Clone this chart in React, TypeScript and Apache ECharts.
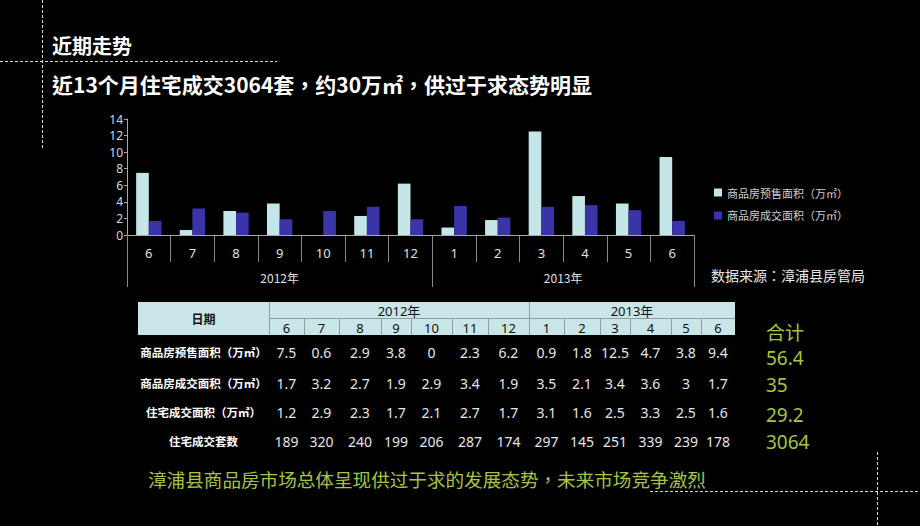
import React, { useEffect, useRef } from "react";
import * as echarts from "echarts";

// ---- data ----
const months = ["6", "7", "8", "9", "10", "11", "12", "1", "2", "3", "4", "5", "6"];
const years = ["2012年", "2013年"];
const yearSpans = [7, 6];
const seriesNames = ["商品房预售面积（万㎡）", "商品房成交面积（万㎡）"];
const presale = [7.5, 0.6, 2.9, 3.8, 0, 2.3, 6.2, 0.9, 1.8, 12.5, 4.7, 3.8, 9.4];
const deal = [1.7, 3.2, 2.7, 1.9, 2.9, 3.4, 1.9, 3.5, 2.1, 3.4, 3.6, 3, 1.7];
const resArea = [1.2, 2.9, 2.3, 1.7, 2.1, 2.7, 1.7, 3.1, 1.6, 2.5, 3.3, 2.5, 1.6];
const resUnits = [189, 320, 240, 199, 206, 287, 174, 297, 145, 251, 339, 239, 178];
const rowLabels = ["商品房预售面积（万㎡）", "商品房成交面积（万㎡）", "住宅成交面积（万㎡）", "住宅成交套数"];
const totalsLabel = "合计";
const totals = ["56.4", "35", "29.2", "3064"];
const yTicks = { min: 0, max: 14, interval: 2 };

const title = "近期走势";
const subtitle = "近13个月住宅成交3064套，约30万㎡，供过于求态势明显";
const sourceText = "数据来源：漳浦县房管局";
const conclusion = "漳浦县商品房市场总体呈现供过于求的发展态势，未来市场竞争激烈";

// ---- layout ----
const FONT = "'Noto Sans', 'Noto Sans CJK SC', sans-serif";
const CJK = "'Noto Sans CJK SC', 'Noto Sans', sans-serif";
const CJK_TC = "'Noto Sans CJK TC', 'Noto Sans', sans-serif";
const LIGHT = "#c5e6e9";
const DARK = "#3a34a8";
const GREEN = "#a6c441";
const colEdges = [269, 304, 339, 381, 411, 452, 488, 529, 564, 600, 630, 671, 701, 735];
const tableLeft = 138;
const headTop = 302;
const headMid = 318;
const headBottom = 335;
const rowYs = [352, 383, 412, 441];
const totalYs = [331, 358, 385, 415, 442];

function buildGraphic() {
  const g: any[] = [];
  const dash = { stroke: "#d8d8d8", lineWidth: 1, lineDash: [3, 2] };
  g.push({ type: "line", shape: { x1: 42.5, y1: 0, x2: 42.5, y2: 150 }, style: dash });
  g.push({ type: "line", shape: { x1: 0, y1: 61.5, x2: 277, y2: 61.5 }, style: dash });
  g.push({ type: "line", shape: { x1: 877.5, y1: 452, x2: 877.5, y2: 526 }, style: dash });
  g.push({ type: "line", shape: { x1: 650, y1: 491.5, x2: 920, y2: 491.5 }, style: dash });

  g.push({ type: "text", x: 52, y: 45, style: { text: title, fill: "#fff", fontSize: 20, fontWeight: "bold", fontFamily: CJK, align: "left", verticalAlign: "middle" } });
  g.push({ type: "text", x: 52, y: 84, style: { text: subtitle, fill: "#fff", fontSize: 21, fontWeight: "bold", fontFamily: CJK_TC, align: "left", verticalAlign: "middle" } });
  g.push({ type: "text", x: 711, y: 275, style: { text: sourceText, fill: "#e8e8e8", fontSize: 14, fontFamily: CJK_TC, align: "left", verticalAlign: "middle" } });

  // table header
  g.push({ type: "rect", shape: { x: tableLeft, y: headTop, width: colEdges[colEdges.length - 1] - tableLeft, height: headBottom - headTop }, style: { fill: "#c9e5e8" } });
  const sep = { stroke: "#8d9fa1", lineWidth: 1 };
  g.push({ type: "line", shape: { x1: colEdges[0] + 0.5, y1: headTop, x2: colEdges[0] + 0.5, y2: headBottom }, style: sep });
  g.push({ type: "line", shape: { x1: colEdges[0], y1: headMid + 0.5, x2: colEdges[colEdges.length - 1], y2: headMid + 0.5 }, style: sep });
  g.push({ type: "text", x: (tableLeft + colEdges[0]) / 2, y: (headTop + headBottom) / 2, style: { text: "日期", fill: "#111", fontSize: 12, fontWeight: "bold", fontFamily: CJK, align: "center", verticalAlign: "middle" } });
  let start = 0;
  years.forEach((yr, i) => {
    const end = start + yearSpans[i];
    const x0 = colEdges[start];
    const x1 = colEdges[end];
    if (i > 0) g.push({ type: "line", shape: { x1: x0 + 0.5, y1: headTop, x2: x0 + 0.5, y2: headBottom }, style: sep });
    g.push({ type: "text", x: (x0 + x1) / 2, y: (headTop + headMid) / 2 + 1, style: { text: yr, fill: "#111", fontSize: 13, fontFamily: FONT, align: "center", verticalAlign: "middle", lineHeight: 14 } });
    start = end;
  });
  months.forEach((m, i) => {
    const x0 = colEdges[i];
    const x1 = colEdges[i + 1];
    if (i > 0) g.push({ type: "line", shape: { x1: x0 + 0.5, y1: headMid, x2: x0 + 0.5, y2: headBottom }, style: sep });
    g.push({ type: "text", x: (x0 + x1) / 2, y: (headMid + headBottom) / 2 + 1, style: { text: m, fill: "#111", fontSize: 13, fontFamily: FONT, align: "center", verticalAlign: "middle", lineHeight: 14 } });
  });

  // table body
  const rows = [presale, deal, resArea, resUnits];
  rows.forEach((row, r) => {
    g.push({ type: "text", x: (tableLeft + colEdges[0]) / 2, y: rowYs[r], style: { text: rowLabels[r], fill: "#fff", fontSize: 11.5, fontWeight: "bold", fontFamily: CJK, align: "center", verticalAlign: "middle" } });
    row.forEach((v, i) => {
      g.push({ type: "text", x: (colEdges[i] + colEdges[i + 1]) / 2, y: rowYs[r], style: { text: String(v), fill: "#e6e6e6", fontSize: 14, fontFamily: FONT, align: "center", verticalAlign: "middle" } });
    });
  });

  // totals
  g.push({ type: "text", x: 766, y: totalYs[0], style: { text: totalsLabel, fill: GREEN, fontSize: 19, fontFamily: CJK, align: "left", verticalAlign: "middle" } });
  totals.forEach((t, i) => {
    g.push({ type: "text", x: 766, y: totalYs[i + 1], style: { text: t, fill: GREEN, fontSize: 19, fontFamily: FONT, align: "left", verticalAlign: "middle" } });
  });

  g.push({ type: "text", x: 148, y: 478, style: { text: conclusion, fill: GREEN, fontSize: 18.6, fontFamily: CJK_TC, align: "left", verticalAlign: "middle" } });
  return g;
}

export default function App() {
  const ref = useRef<HTMLDivElement>(null);
  useEffect(() => {
    if (!ref.current) return;
    const chart = echarts.init(ref.current, null, { renderer: "svg" });
    // second (year) axis: half-month points, boundaryGap false
    const yearAxisData: string[] = [];
    const n = months.length * 2 + 1;
    for (let i = 0; i < n; i++) yearAxisData.push("");
    const yearBounds: number[] = [0];
    let acc = 0;
    yearSpans.forEach((s, i) => {
      yearAxisData[acc * 2 + s] = years[i];
      acc += s;
      yearBounds.push(acc * 2);
    });
    chart.setOption({
      animation: false,
      backgroundColor: "#000",
      grid: { left: 127, right: 226, top: 119, bottom: 291, containLabel: false },
      legend: {
        orient: "vertical",
        left: 709,
        top: 182,
        itemWidth: 8,
        itemHeight: 8,
        itemGap: 12,
        icon: "rect",
        textStyle: { color: "#cfcfcf", fontSize: 11, fontFamily: CJK },
        data: seriesNames,
      },
      xAxis: [
        {
          type: "category",
          data: months,
          position: "bottom",
          axisLine: { lineStyle: { color: "#a8a8a8", width: 1 } },
          axisTick: { show: true, interval: 0, length: 27, lineStyle: { color: "#8a8a8a" } },
          axisLabel: { color: "#e0e0e0", fontSize: 13, margin: 11, fontFamily: FONT, interval: 0 },
        },
        {
          type: "category",
          data: yearAxisData,
          boundaryGap: false,
          position: "bottom",
          offset: 0,
          axisLine: { show: false },
          axisTick: {
            show: true,
            length: 52,
            interval: (idx: number) => yearBounds.indexOf(idx) >= 0,
            lineStyle: { color: "#8a8a8a" },
          },
          axisLabel: { color: "#e0e0e0", fontSize: 12, margin: 36, fontFamily: CJK, interval: 0 },
        },
      ],
      yAxis: {
        type: "value",
        min: yTicks.min,
        max: yTicks.max,
        interval: yTicks.interval,
        axisLine: { show: true, lineStyle: { color: "#a8a8a8" } },
        axisTick: { show: true, length: 3, lineStyle: { color: "#a8a8a8" } },
        axisLabel: { color: "#d8d8d8", fontSize: 12, margin: 4, fontFamily: FONT },
        splitLine: { show: false },
      },
      series: [
        { name: seriesNames[0], type: "bar", data: presale, itemStyle: { color: LIGHT }, barGap: "0%", barCategoryGap: "42%", xAxisIndex: 0 },
        { name: seriesNames[1], type: "bar", data: deal, itemStyle: { color: DARK }, barGap: "0%", barCategoryGap: "42%", xAxisIndex: 0 },
      ],
      graphic: buildGraphic(),
    });
    return () => chart.dispose();
  }, []);
  return (
    <div
      ref={ref}
      style={{ position: "fixed", left: 0, top: 0, width: 920, height: 526, background: "#000" }}
    />
  );
}
